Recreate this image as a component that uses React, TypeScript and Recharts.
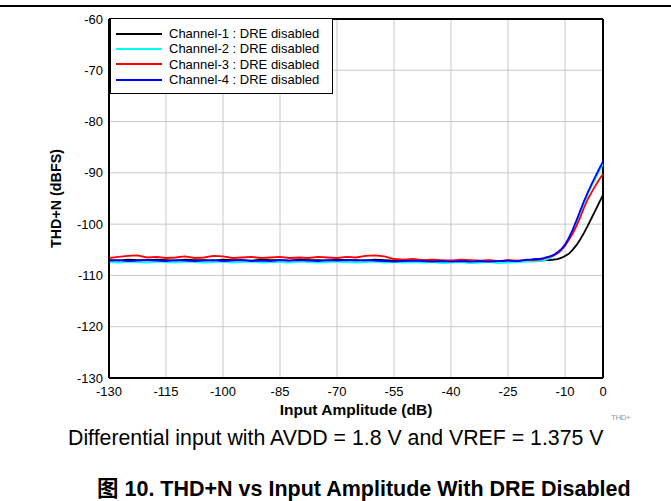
import React from 'react'
import { LineChart, Line, XAxis, YAxis, CartesianGrid, Legend, ReferenceLine } from 'recharts'

// input amplitude (dB): 2.5 dB steps on the flat part, 1 dB steps on the rise
const inputDb = [
  -130, -127.5, -125, -122.5, -120, -117.5, -115, -112.5, -110, -107.5,
  -105, -102.5, -100, -97.5, -95, -92.5, -90, -87.5, -85, -82.5,
  -80, -77.5, -75, -72.5, -70, -67.5, -65, -62.5, -60, -57.5,
  -55, -52.5, -50, -47.5, -45, -42.5, -40, -37.5, -35, -32.5,
  -30, -27.5, -25, -22.5, -20,
  -19, -18, -17, -16, -15, -14, -13, -12, -11, -10,
  -9, -8, -7, -6, -5, -4, -3, -2, -1, 0,
]

const ch1 = [
  -107.0, -107.1, -106.9, -107.0, -107.0, -106.9, -107.0, -107.1, -106.9, -107.0,
  -107.0, -107.1, -106.9, -107.0, -107.0, -107.1, -106.9, -107.0, -107.0, -107.1,
  -106.9, -107.0, -107.0, -107.1, -106.9, -107.0, -107.0, -107.1, -106.9, -107.0,
  -107.1, -107.0, -107.1, -107.0, -107.1, -107.2, -107.1, -107.2, -107.1, -107.2,
  -107.1, -107.2, -107.1, -107.2, -107.1,
  -107.2, -107.1, -107.1, -107.1, -107.0, -107.0, -106.9, -106.8, -106.6, -106.2,
  -105.8, -105.0, -104.1, -103.0, -101.7, -100.3, -98.8, -97.3, -95.8, -94.3,
]

const ch2 = [
  -107.4, -107.5, -107.3, -107.4, -107.5, -107.3, -107.4, -107.5, -107.3, -107.4,
  -107.5, -107.4, -107.3, -107.5, -107.4, -107.3, -107.5, -107.4, -107.4, -107.5,
  -107.3, -107.4, -107.5, -107.4, -107.3, -107.4, -107.5, -107.4, -107.3, -107.5,
  -107.4, -107.5, -107.4, -107.5, -107.4, -107.6, -107.5, -107.4, -107.6, -107.5,
  -107.4, -107.6, -107.5, -107.4, -107.3,
  -107.3, -107.3, -107.2, -107.1, -106.9, -106.6, -106.2, -105.7, -105.1, -104.2,
  -102.9, -101.4, -99.6, -97.7, -95.8, -94.1, -92.5, -91.0, -89.6, -88.3,
]

const ch3 = [
  -106.6, -106.4, -106.2, -106.1, -106.5, -106.4, -106.6, -106.5, -106.3, -106.6,
  -106.5, -106.2, -106.3, -106.6, -106.5, -106.4, -106.6, -106.5, -106.4, -106.6,
  -106.5, -106.6, -106.4, -106.5, -106.6, -106.4, -106.5, -106.2, -106.1, -106.3,
  -106.8, -106.9, -106.8, -107.0, -106.9, -107.0, -107.1, -106.9, -107.0, -107.1,
  -107.0, -107.2, -107.0, -107.1, -107.0,
  -107.0, -107.0, -106.9, -106.8, -106.6, -106.4, -106.1, -105.7, -105.1, -104.2,
  -103.1, -101.9, -100.4, -98.7, -96.8, -95.1, -93.8, -92.5, -91.3, -90.2,
]

const ch4 = [
  -107.1, -107.0, -107.2, -107.1, -107.0, -107.1, -107.2, -107.0, -107.1, -107.2,
  -107.1, -107.0, -107.2, -107.1, -107.0, -107.2, -107.1, -107.2, -107.0, -107.1,
  -107.0, -107.1, -107.2, -107.0, -107.1, -107.0, -107.1, -107.0, -107.1, -107.2,
  -107.3, -107.2, -107.1, -107.2, -107.3, -107.2, -107.3, -107.2, -107.3, -107.2,
  -107.3, -107.2, -107.1, -107.2, -106.9,
  -106.9, -106.8, -106.8, -106.7, -106.5, -106.3, -106.0, -105.5, -104.9, -104.0,
  -102.7, -101.1, -99.3, -97.4, -95.5, -93.8, -92.2, -90.7, -89.2, -87.8,
]

const xTicks = [-130, -115, -100, -85, -70, -55, -40, -25, -10, 0]
const yTicks = [-130, -120, -110, -100, -90, -80, -70, -60]

const series = [
  { key: 'ch1', name: 'Channel-1 : DRE disabled', color: '#000000' },
  { key: 'ch2', name: 'Channel-2 : DRE disabled', color: '#00ffff' },
  { key: 'ch3', name: 'Channel-3 : DRE disabled', color: '#ff0000' },
  { key: 'ch4', name: 'Channel-4 : DRE disabled', color: '#0000ff' },
]

const data = inputDb.map((x, i) => ({ x, ch1: ch1[i], ch2: ch2[i], ch3: ch3[i], ch4: ch4[i] }))

const font = '"Liberation Sans", Arial, "Noto Sans CJK SC", sans-serif'

function LegendBox() {
  return (
    <div
      style={{
        border: '1.5px solid #000',
        background: '#fff',
        padding: '7px 13px 6px 5px',
        fontFamily: font,
        fontSize: 13,
        lineHeight: '15.3px',
        color: '#000',
      }}
    >
      {series.map((s) => (
        <div key={s.key} style={{ display: 'flex', alignItems: 'center', whiteSpace: 'nowrap' }}>
          <span style={{ display: 'inline-block', width: 46, height: 2, background: s.color, marginRight: 7 }} />
          {s.name}
        </div>
      ))}
    </div>
  )
}

export default function App() {
  return (
    <div style={{ position: 'absolute', left: 0, top: 0, width: 671, height: 501, background: '#fff', fontFamily: font }}>
      <div style={{ position: 'absolute', left: 0, top: 5, width: 671, height: 2, background: '#000' }} />
      <LineChart width={671} height={501} data={data} margin={{ top: 19, right: 68, bottom: 63, left: 5 }}>
        <CartesianGrid stroke="#c8c8c8" strokeWidth={1} />
        <XAxis
          dataKey="x"
          type="number"
          domain={[-130, 0]}
          ticks={xTicks}
          tickLine={false}
          axisLine={{ stroke: '#000', strokeWidth: 2 }}
          tick={{ fill: '#000', fontSize: 13, fontFamily: font }}
          tickMargin={3}
          height={60}
          label={{ value: 'Input Amplitude (dB)', position: 'center', dy: 1, fill: '#000', fontSize: 15.5, fontWeight: 'bold', fontFamily: font }}
        />
        <YAxis
          type="number"
          domain={[-130, -60]}
          ticks={yTicks}
          tickLine={false}
          axisLine={{ stroke: '#000', strokeWidth: 2 }}
          tick={{ fill: '#000', fontSize: 13, fontFamily: font }}
          tickMargin={0}
          width={104}
          label={{ value: 'THD+N (dBFS)', angle: -90, position: 'center', dx: -1, fill: '#000', fontSize: 14.3, fontWeight: 'bold', fontFamily: font }}
        />
        <ReferenceLine y={-60} stroke="#000" strokeWidth={2} />
        <ReferenceLine x={0} stroke="#000" strokeWidth={2} />
        {series.map((s) => (
          <Line
            key={s.key}
            type="linear"
            dataKey={s.key}
            name={s.name}
            stroke={s.color}
            strokeWidth={1.8}
            dot={false}
            isAnimationActive={false}
          />
        ))}
        <Legend
          layout="vertical"
          align="center"
          verticalAlign="middle"
          content={() => <LegendBox />}
          wrapperStyle={{ position: 'absolute', left: 110, top: 18, width: 'auto' }}
        />
      </LineChart>
      <div style={{ position: 'absolute', left: 611, top: 413, fontSize: 8, color: '#999', letterSpacing: -0.5 }}>THD+</div>
      <div style={{ position: 'absolute', left: 68, top: 426, fontSize: 21.3, color: '#000', whiteSpace: 'nowrap' }}>
        Differential input with AVDD = 1.8 V and VREF = 1.375 V
      </div>
      <div style={{ position: 'absolute', left: 97, top: 471, fontSize: 21.5, fontWeight: 'bold', color: '#000', whiteSpace: 'nowrap' }}>
        图 10. THD+N vs Input Amplitude With DRE Disabled
      </div>
    </div>
  )
}
